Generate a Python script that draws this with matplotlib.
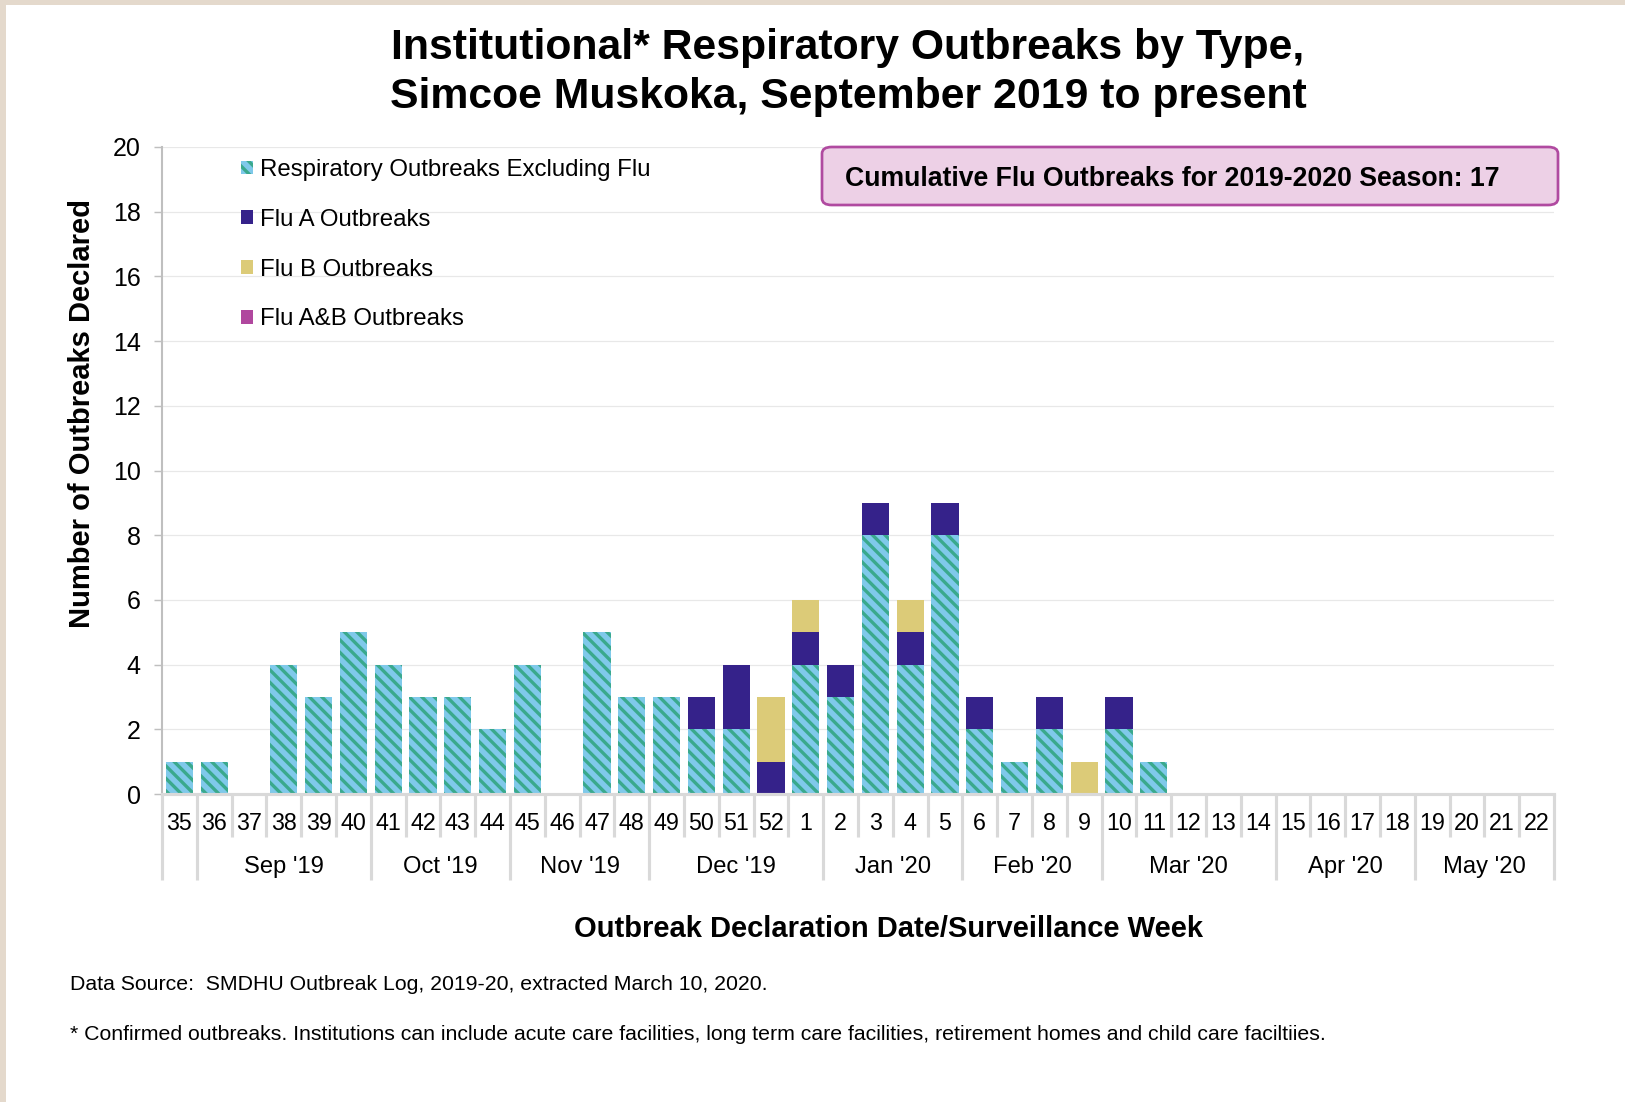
import matplotlib
matplotlib.use("Agg")
import matplotlib.pyplot as plt
from matplotlib.patches import Patch, Rectangle, FancyBboxPatch
import numpy as np

# ---- data -------------------------------------------------------------
weeks = [35, 36, 37, 38, 39, 40, 41, 42, 43, 44, 45, 46, 47, 48, 49, 50, 51, 52,
         1, 2, 3, 4, 5, 6, 7, 8, 9, 10, 11, 12, 13, 14, 15, 16, 17, 18, 19, 20, 21, 22]

resp_excl_flu = [1, 1, 0, 4, 3, 5, 4, 3, 3, 2, 4, 0, 5, 3, 3, 2, 2, 0,
                 4, 3, 8, 4, 8, 2, 1, 2, 0, 2, 1, 0, 0, 0, 0, 0, 0, 0, 0, 0, 0, 0]
flu_a = [0, 0, 0, 0, 0, 0, 0, 0, 0, 0, 0, 0, 0, 0, 0, 1, 2, 1,
         1, 1, 1, 1, 1, 1, 0, 1, 0, 1, 0, 0, 0, 0, 0, 0, 0, 0, 0, 0, 0, 0]
flu_b = [0, 0, 0, 0, 0, 0, 0, 0, 0, 0, 0, 0, 0, 0, 0, 0, 0, 2,
         1, 0, 0, 1, 0, 0, 0, 0, 1, 0, 0, 0, 0, 0, 0, 0, 0, 0, 0, 0, 0, 0]
flu_ab = [0, 0, 0, 0, 0, 0, 0, 0, 0, 0, 0, 0, 0, 0, 0, 0, 0, 0,
          0, 0, 0, 0, 0, 0, 0, 0, 0, 0, 0, 0, 0, 0, 0, 0, 0, 0, 0, 0, 0, 0]

month_labels = ["", "Sep '19", "Oct '19", "Nov '19", "Dec '19",
                "Jan '20", "Feb '20", "Mar '20", "Apr '20", "May '20"]
month_week_counts = [1, 5, 4, 4, 5, 4, 4, 5, 4, 4]

series_labels = ["Respiratory Outbreaks Excluding Flu", "Flu A Outbreaks",
                 "Flu B Outbreaks", "Flu A&B Outbreaks"]

# ---- style ------------------------------------------------------------
RESP_FACE = "#7FC9EA"
RESP_STRIPE = "#3AA98D"
FLU_A_COLOR = "#35228A"
FLU_B_COLOR = "#DCCB78"
FLU_AB_COLOR = "#B0479E"
AXIS_GREY = "#BFBFBF"
DIVIDER_GREY = "#D9D9D9"
STRIPES = "\\" * 4

plt.rcParams["font.family"] = ["Liberation Sans", "DejaVu Sans"]
plt.rcParams["hatch.linewidth"] = 1.6

W, H, DPI = 1625, 1102, 150
fig = plt.figure(figsize=(W / DPI, H / DPI), dpi=DPI)
fig.patch.set_facecolor("white")

# thin beige frame along the top and left edges
fig.add_artist(Rectangle((0, 1 - 5 / H), 1, 5 / H, transform=fig.transFigure,
                         facecolor="#E4D9CC", edgecolor="none", zorder=0))
fig.add_artist(Rectangle((0, 0), 6 / W, 1, transform=fig.transFigure,
                         facecolor="#E4D9CC", edgecolor="none", zorder=0))

ax_left, ax_right, ax_top, ax_bottom = 162, 1554, 147, 794
ax = fig.add_axes([ax_left / W, 1 - ax_bottom / H,
                   (ax_right - ax_left) / W, (ax_bottom - ax_top) / H])
ax_h = ax_bottom - ax_top

x = np.arange(len(weeks))
bar_w = 0.78
resp = np.array(resp_excl_flu)
fa = np.array(flu_a)
fb = np.array(flu_b)
fab = np.array(flu_ab)

ax.bar(x, resp, bar_w, color=RESP_FACE, edgecolor=RESP_STRIPE, hatch=STRIPES,
       linewidth=0, zorder=2)
ax.bar(x, fa, bar_w, bottom=resp, color=FLU_A_COLOR, linewidth=0, zorder=2)
ax.bar(x, fb, bar_w, bottom=resp + fa, color=FLU_B_COLOR, linewidth=0, zorder=2)
ax.bar(x, fab, bar_w, bottom=resp + fa + fb, color=FLU_AB_COLOR, linewidth=0, zorder=2)

ax.set_xlim(-0.5, len(weeks) - 0.5)
ax.set_ylim(0, 20)
ax.set_yticks(np.arange(0, 21, 2))
ax.tick_params(axis="y", direction="out", length=3.8, width=0.7, color=AXIS_GREY,
               pad=6.5, labelsize=12)
ax.yaxis.grid(True, color="#E8E8E8", linewidth=0.6)
ax.set_axisbelow(True)

for side in ("top", "right"):
    ax.spines[side].set_visible(False)
ax.spines["left"].set_color(AXIS_GREY)
ax.spines["left"].set_linewidth(1.0)
ax.spines["bottom"].set_color(DIVIDER_GREY)
ax.spines["bottom"].set_linewidth(1.5)

# week numbers as tick labels
ax.set_xticks(x)
ax.set_xticklabels([str(w) for w in weeks])
ax.tick_params(axis="x", length=0, pad=8.5, labelsize=11.2)

# category dividers: short ones between weeks, long ones between months
xt = ax.get_xaxis_transform()
week_drop = 43 / ax_h
month_drop = 86 / ax_h
bounds = np.cumsum([0] + month_week_counts) - 0.5
week_bounds = [b for b in np.arange(len(weeks) + 1) - 0.5 if b not in set(bounds)]
ax.vlines(week_bounds, -week_drop, 0, transform=xt, colors=DIVIDER_GREY,
          linewidth=1.5, clip_on=False)
ax.vlines(bounds, -month_drop, 0, transform=xt, colors=DIVIDER_GREY,
          linewidth=1.5, clip_on=False)
for lab, lo, hi in zip(month_labels, bounds[:-1], bounds[1:]):
    ax.text((lo + hi) / 2, -(867 - ax_bottom) / ax_h, lab, transform=xt,
            ha="center", va="center", fontsize=11.4, clip_on=False)

# legend
handles = [Patch(facecolor=RESP_FACE, edgecolor=RESP_STRIPE, hatch=STRIPES, linewidth=0),
           Patch(facecolor=FLU_A_COLOR, linewidth=0),
           Patch(facecolor=FLU_B_COLOR, linewidth=0),
           Patch(facecolor=FLU_AB_COLOR, linewidth=0)]
fig.legend(handles, series_labels, loc="upper left",
           bbox_to_anchor=(241 / W, 1 - 159 / H), bbox_transform=fig.transFigure,
           frameon=False, fontsize=11.5, handlelength=0.5, handleheight=0.5,
           handletextpad=0.3, labelspacing=1.16, borderpad=0, borderaxespad=0)

# cumulative flu count box
fig.add_artist(FancyBboxPatch((822 / W, 1 - 205 / H), (1558 - 822) / W, (205 - 147) / H,
                              boxstyle="round,pad=0,rounding_size=0.006",
                              transform=fig.transFigure, facecolor="#EDD0E6",
                              edgecolor="#B04AA0", linewidth=1.3, zorder=3))
fig.text(845 / W, 1 - 179 / H, "Cumulative Flu Outbreaks for 2019-2020 Season: 17",
         ha="left", va="center", fontsize=12.8, fontweight="bold", zorder=4)

# titles and axis labels
fig.text(848 / W, 1 - 48 / H, "Institutional* Respiratory Outbreaks by Type,",
         ha="center", va="center", fontsize=20.5, fontweight="bold")
fig.text(848 / W, 1 - 97 / H, "Simcoe Muskoka, September 2019 to present",
         ha="center", va="center", fontsize=20.5, fontweight="bold")
fig.text(82 / W, 1 - 413 / H, "Number of Outbreaks Declared", rotation=90,
         ha="center", va="center", fontsize=14, fontweight="bold")
fig.text(888 / W, 1 - 929 / H, "Outbreak Declaration Date/Surveillance Week",
         ha="center", va="center", fontsize=14, fontweight="bold")

# footnotes
fig.text(70 / W, 1 - 985 / H,
         "Data Source:  SMDHU Outbreak Log, 2019-20, extracted March 10, 2020.",
         ha="left", va="center", fontsize=10.2)
fig.text(70 / W, 1 - 1034 / H,
         "* Confirmed outbreaks. Institutions can include acute care facilities, long term "
         "care facilities, retirement homes and child care faciltiies.",
         ha="left", va="center", fontsize=10.2)

fig.savefig("out.png", dpi=DPI)
